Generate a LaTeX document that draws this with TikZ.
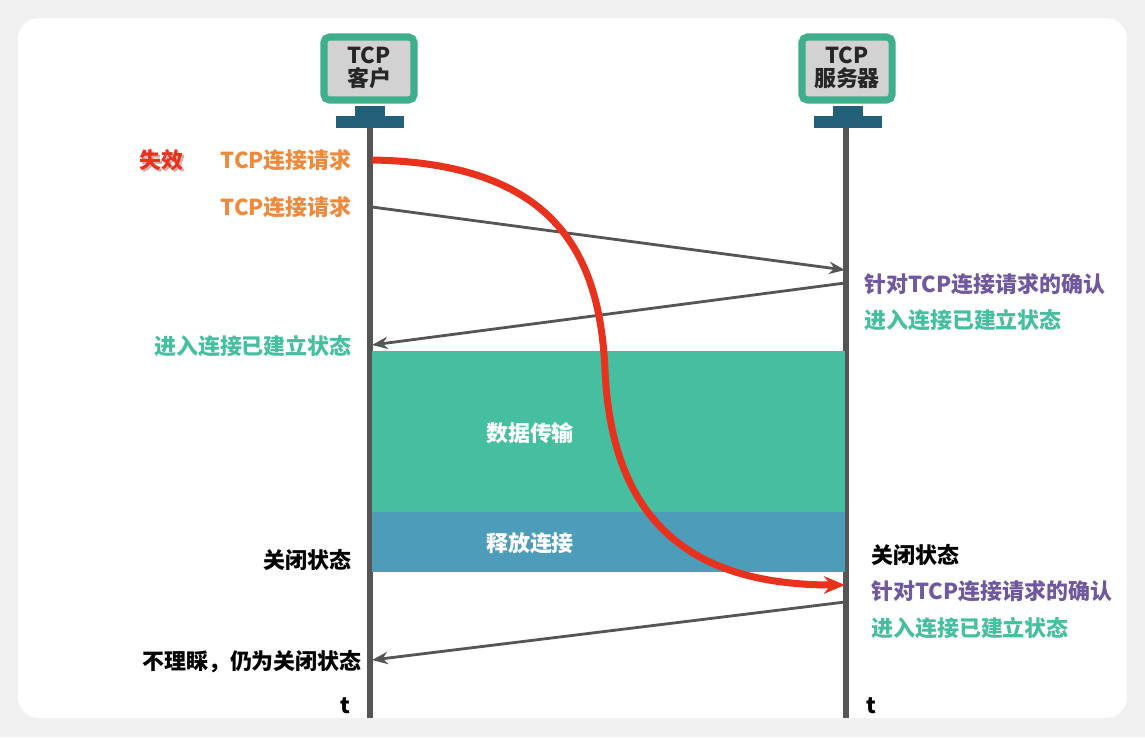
\documentclass[tikz,border=0pt]{standalone}
\usepackage{fontspec}
\setmainfont{Noto Sans CJK SC}
\usetikzlibrary{arrows.meta}
\definecolor{cardgreen}{HTML}{45BFA0}
\definecolor{boxgreen}{HTML}{3FAE8C}
\definecolor{standblue}{HTML}{23607A}
\definecolor{relblue}{HTML}{4D9DBA}
\definecolor{reqorange}{HTML}{EF8A3C}
\definecolor{ackpurple}{HTML}{70589E}
\definecolor{linegray}{HTML}{555555}
\definecolor{lostred}{HTML}{E8321E}
\tikzset{
	txt/.style={font=\fontsize{12.5}{14}\selectfont\bfseries},
	msg/.style={-{Stealth[length=9pt,width=7pt]},line width=1.6pt,linegray},
}
\begin{document}
\begin{tikzpicture}[x=0.02cm,y=-0.02cm]
	\useasboundingbox (0,0) rectangle (1145,737);
	\fill [gray!12](0,0)rectangle(1145,737);
	\fill [white,rounded corners=12pt](18,18)rectangle(1127,718);
	\begin{scope}
		\clip [rounded corners=12pt](18,18)rectangle(1127,718);
		
		% time lines
		\draw [line width=3pt,linegray](370,128)--(370,718);
		\draw [line width=3pt,linegray](846,128)--(846,718);
		
		% monitors
		\begin{scope}
			\draw [fill=gray!35,draw=boxgreen,line width=4pt,rounded corners=3pt](324,37)rectangle(414,100);
			\fill [standblue](355,106)rectangle(385,116);
			\fill [standblue](336,116)rectangle(404,128);
			\node [txt,gray!30!black,align=center,font=\fontsize{12.5}{13}\selectfont\bfseries] (client) at (369,68){TCP\\客户};
		\end{scope}
		\begin{scope}[shift={(478,0)}]
			\draw [fill=gray!35,draw=boxgreen,line width=4pt,rounded corners=3pt](324,37)rectangle(414,100);
			\fill [standblue](355,106)rectangle(385,116);
			\fill [standblue](336,116)rectangle(404,128);
			\node [txt,gray!30!black,align=center,font=\fontsize{12.5}{13}\selectfont\bfseries] (server) at (369,68){TCP\\服务器};
		\end{scope}
		
		% data and release
		\fill [cardgreen](372,351)rectangle(845,512);
		\fill [relblue](372,512)rectangle(845,572);
		\node [txt,white] (data) at (530,433){数据传输};
		\node [txt,white] (release) at (530,543){释放连接};
		
		% messages
		\coordinate (c1) at (372,207);
		\coordinate (s1) at (845,270);
		\coordinate (s2) at (845,283);
		\coordinate (c2) at (372,345);
		\coordinate (s3) at (845,602);
		\coordinate (c3) at (372,660);
		\draw [msg](c1)--(s1);
		\draw [msg](s2)--(c2);
		\draw [msg](s3)--(c3);
		
		% lost request
		\coordinate (lost) at (372,160);
		\coordinate (late) at (845,585);
		\draw [lostred,line width=4pt,-{Stealth[length=12pt,width=10pt]}](lost)..controls(560,163)and(600,260)..(605,370)
			..controls(612,530)and(700,585)..(late);
		
		% left labels
		\node [txt,lostred!60!black,opacity=0.35] at (163,162){失效};
		\node [txt,lostred] (fail) at (161,160){失效};
		\node [txt,reqorange,left] (req1) at (358,160){TCP连接请求};
		\node [txt,reqorange,left] (req2) at (358,207){TCP连接请求};
		\node [txt,cardgreen,left] (est1) at (358,346){进入连接已建立状态};
		\node [txt,black,left] (closed1) at (358,560){关闭状态};
		\node [txt,black,left] (ignore) at (368,662){不理睬，仍为关闭状态};
		\node [txt,black] (t1) at (345,706){t};
		
		% right labels
		\node [txt,ackpurple,right] (ack1) at (858,284){针对TCP连接请求的确认};
		\node [txt,cardgreen,right] (est2) at (858,320){进入连接已建立状态};
		\node [txt,black,right] (closed2) at (865,555){关闭状态};
		\node [txt,ackpurple,right] (ack2) at (865,591){针对TCP连接请求的确认};
		\node [txt,cardgreen,right] (est3) at (865,628){进入连接已建立状态};
		\node [txt,black] (t2) at (871,706){t};
	\end{scope}
\end{tikzpicture}
\end{document}
